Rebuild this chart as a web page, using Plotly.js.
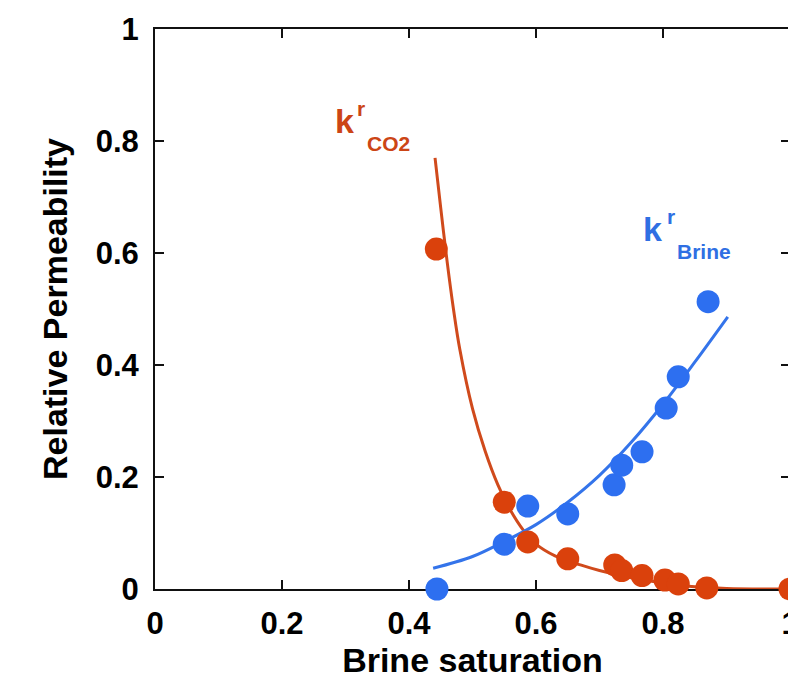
<!DOCTYPE html>
<html>
<head>
<meta charset="utf-8">
<script src="https://cdn.plot.ly/plotly-3.0.1.min.js"></script>
<style>
html, body { margin: 0; padding: 0; overflow: hidden; background: #fff; }
#chart { width: 790px; height: 688px; }
</style>
</head>
<body>
<div id="chart"></div>
<script>
// Measured data points (brine saturation, relative permeability)
const co2Sat  = [0.443, 0.550, 0.587, 0.650, 0.724, 0.735, 0.767, 0.803, 0.824, 0.869, 1.000];
const co2Kr   = [0.607, 0.155, 0.084, 0.054, 0.043, 0.033, 0.024, 0.016, 0.009, 0.002, 0.000];
const brineSat = [0.444, 0.550, 0.587, 0.650, 0.723, 0.735, 0.767, 0.805, 0.824, 0.871];
const brineKr  = [0.000, 0.080, 0.148, 0.134, 0.186, 0.221, 0.245, 0.323, 0.379, 0.513];

// Fitted curves
const co2FitSat = [0.441, 0.450, 0.460, 0.470, 0.480, 0.500, 0.520, 0.540, 0.560, 0.580, 0.600, 0.630, 0.670, 0.700, 0.750, 0.800, 0.850, 0.900, 1.000];
const co2FitKr  = [0.770, 0.680, 0.585, 0.500, 0.428, 0.322, 0.246, 0.186, 0.140, 0.105, 0.080, 0.059, 0.043, 0.033, 0.020, 0.011, 0.004, 0.001, 0.000];
const brineFitSat = [0.438, 0.500, 0.550, 0.600, 0.650, 0.700, 0.750, 0.800, 0.850, 0.902];
const brineFitKr  = [0.037, 0.058, 0.085, 0.115, 0.155, 0.203, 0.262, 0.330, 0.405, 0.486];

const tickVals = [0, 0.2, 0.4, 0.6, 0.8, 1];
const tickText = ['0', '0.2', '0.4', '0.6', '0.8', '1'];

const xTitle = 'Brine saturation';
const yTitle = 'Relative Permeability';

const ORANGE = '#da410c';
const ORANGE_LINE = '#d04a1c';
const BLUE = '#2d6ff0';
const BLUE_LINE = '#3474ea';
const FONT = 'Liberation Sans, Arial, Helvetica, sans-serif';

const traces = [
  { x: co2FitSat, y: co2FitKr, mode: 'lines', line: { color: ORANGE_LINE, width: 3, shape: 'spline', smoothing: 1 }, cliponaxis: false, hoverinfo: 'skip' },
  { x: brineFitSat, y: brineFitKr, mode: 'lines', line: { color: BLUE_LINE, width: 3, shape: 'spline', smoothing: 1 }, cliponaxis: false, hoverinfo: 'skip' },
  { x: brineSat, y: brineKr, mode: 'markers', marker: { color: BLUE, size: 23 }, cliponaxis: false },
  { x: co2Sat, y: co2Kr, mode: 'markers', marker: { color: ORANGE, size: 23 }, cliponaxis: false }
];

const axisCommon = {
  range: [0, 1],
  tickvals: tickVals,
  ticktext: tickText,
  ticks: 'inside',
  ticklen: 9,
  tickwidth: 1.5,
  tickcolor: '#111',
  showline: true,
  linecolor: '#111',
  linewidth: 2,
  mirror: 'ticks',
  showgrid: false,
  zeroline: false,
  layer: 'below traces',
  ticklabeloverflow: 'allow',
  tickfont: { family: FONT, size: 31, color: '#000', weight: 'bold' }
};

const layout = {
  width: 790,
  height: 688,
  margin: { l: 155, r: 0, t: 29, b: 99 },
  paper_bgcolor: '#fff',
  plot_bgcolor: '#fff',
  showlegend: false,
  xaxis: Object.assign({}, axisCommon, {
    ticklabelstandoff: 6,
    title: { text: xTitle, font: { family: FONT, size: 34, color: '#000', weight: 'bold' }, standoff: 2 }
  }),
  yaxis: Object.assign({}, axisCommon, {
    ticklabelstandoff: 8,
    title: { text: yTitle, font: { family: FONT, size: 34, color: '#000', weight: 'bold' }, standoff: 18 }
  }),
  annotations: [
    { text: 'k', x: 0.299, y: 0.836, xref: 'x', yref: 'y', showarrow: false, font: { family: FONT, size: 34, color: '#cc4516', weight: 'bold' } },
    { text: 'r', x: 0.324, y: 0.858, xref: 'x', yref: 'y', showarrow: false, font: { family: FONT, size: 21, color: '#cc4516', weight: 'bold' } },
    { text: 'CO2', x: 0.367, y: 0.796, xref: 'x', yref: 'y', showarrow: false, font: { family: FONT, size: 21, color: '#cc4516', weight: 'bold' } },
    { text: 'k', x: 0.784, y: 0.643, xref: 'x', yref: 'y', showarrow: false, font: { family: FONT, size: 34, color: '#2f6fe3', weight: 'bold' } },
    { text: 'r', x: 0.812, y: 0.665, xref: 'x', yref: 'y', showarrow: false, font: { family: FONT, size: 21, color: '#2f6fe3', weight: 'bold' } },
    { text: 'Brine', x: 0.865, y: 0.602, xref: 'x', yref: 'y', showarrow: false, font: { family: FONT, size: 21, color: '#2f6fe3', weight: 'bold' } }
  ]
};

Plotly.newPlot('chart', traces, layout, { displayModeBar: false, staticPlot: true });
</script>
</body>
</html>
